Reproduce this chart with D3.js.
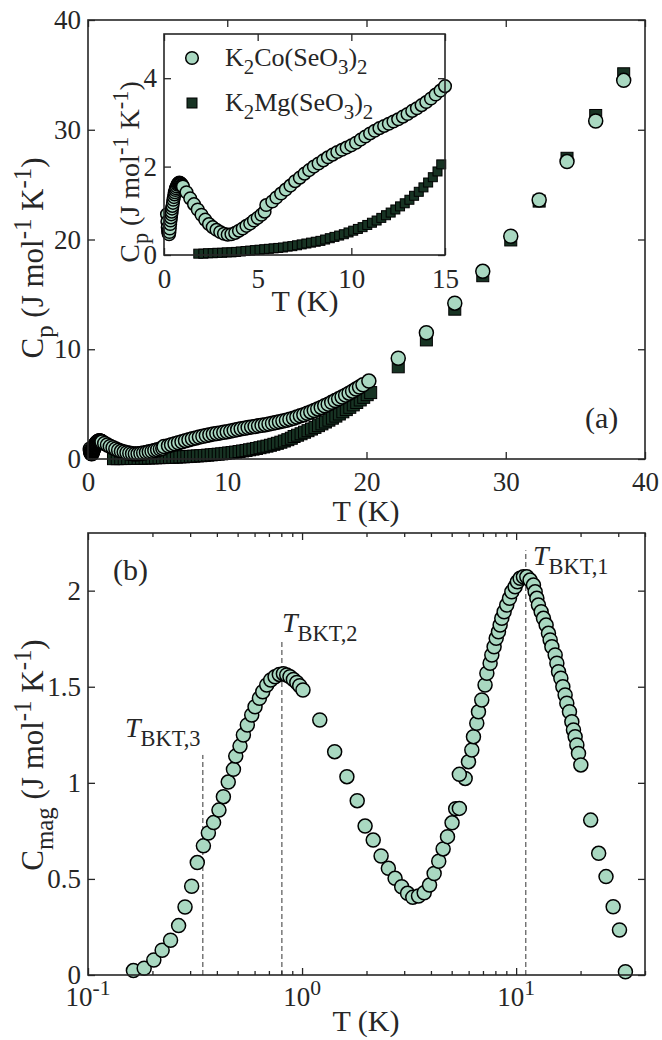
<!DOCTYPE html>
<html lang="en">
<head>
<meta charset="utf-8">
<title>Specific heat of K2Co(SeO3)2</title>
<script src="https://d3js.org/d3.v7.min.js"></script>
<style>
  body { margin: 0; background: #fff; }
  svg { display: block; }
  text { font-family: "Liberation Serif", "Times New Roman", serif; }
  .tick text { font-size: 27px; fill: #262626; }
  .tick line { stroke: #262626; stroke-width: 1.3; }
</style>
</head>
<body>
<script>

// ---- data ----
// K2Co(SeO3)2 total specific heat, T (K) and Cp (J/mol/K)
var coT = [0.16,0.18,0.20,0.22,0.24,0.27,0.29,0.31,0.33,0.35,0.37,0.39,0.41,0.43,0.45,0.48,0.50,0.53,0.56,0.58,
  0.61,0.64,0.68,0.72,0.75,0.79,0.82,0.85,0.88,0.91,0.95,0.98,1.01,1.2,1.4,1.6,1.8,2.0,2.2,2.4,
  2.6,2.8,3.0,3.2,3.4,3.6,3.8,4.0,4.2,4.4,4.6,4.8,5.0,5.2,5.37,5.46,5.78,6.0,6.25,6.5,
  6.75,7.0,7.25,7.5,7.75,8.0,8.25,8.5,8.75,9.0,9.25,9.5,9.75,10.0,10.25,10.5,10.75,11.0,11.25,11.5,
  11.75,12.0,12.25,12.5,12.75,13.0,13.25,13.5,13.75,14.0,14.25,14.5,14.76,15.0,15.25,15.5,15.75,16.0,16.25,16.5,
  16.75,17.0,17.25,17.5,17.75,18.0,18.25,18.5,18.75,19.0,19.25,19.5,19.75,20.17,
  22.28,24.3,26.34,28.35,30.36,32.4,34.4,36.46,38.47];
var coCp = [0.92,0.75,0.62,0.54,0.49,0.47,0.52,0.60,0.70,0.78,0.85,0.92,0.98,1.05,1.11,1.18,1.25,1.31,1.37,1.42,
  1.47,1.51,1.55,1.59,1.61,1.63,1.64,1.63,1.62,1.61,1.59,1.57,1.55,1.42,1.28,1.15,1.03,0.91,0.80,0.70,
  0.63,0.57,0.52,0.48,0.46,0.47,0.50,0.55,0.60,0.66,0.71,0.78,0.84,0.91,0.98,1.13,1.21,1.30,1.39,1.48,
  1.57,1.67,1.75,1.84,1.92,2.00,2.07,2.14,2.21,2.27,2.33,2.38,2.43,2.48,2.54,2.61,2.68,2.75,2.81,2.87,
  2.92,2.97,3.02,3.07,3.13,3.19,3.26,3.32,3.39,3.46,3.54,3.63,3.72,3.82,3.93,4.04,4.16,4.29,4.42,4.56,
  4.70,4.85,5.00,5.16,5.32,5.48,5.65,5.82,6.00,6.18,6.37,6.56,6.76,7.10,
  9.18,11.5,14.2,17.1,20.3,23.6,27.1,30.8,34.5];

// K2Mg(SeO3)2 (non-magnetic reference)
var mgT = [1.83,2.1,2.35,2.6,2.85,3.1,3.35,3.6,3.85,4.1,4.35,4.6,4.85,5.1,5.35,5.6,5.85,6.1,6.35,6.6,
  6.85,7.1,7.35,7.6,7.85,8.1,8.35,8.6,8.85,9.1,9.35,9.6,9.85,10.1,10.35,10.6,10.85,11.1,11.35,11.6,
  11.85,12.1,12.35,12.6,12.85,13.1,13.35,13.6,13.85,14.1,14.35,14.6,14.8,15.05,15.3,15.55,15.8,16.05,16.3,16.55,
  16.8,17.05,17.3,17.55,17.8,18.05,18.3,18.55,18.8,19.05,19.3,19.55,19.8,20.05,20.3,
  22.28,24.3,26.34,28.35,30.36,32.4,34.4,36.46,38.47];
var mgCp = [0.03,0.03,0.04,0.04,0.05,0.05,0.06,0.06,0.07,0.08,0.09,0.10,0.11,0.12,0.13,0.14,0.15,0.16,0.17,0.19,
  0.20,0.22,0.24,0.26,0.28,0.30,0.32,0.35,0.38,0.41,0.44,0.47,0.51,0.55,0.59,0.63,0.68,0.73,0.78,0.84,
  0.90,0.96,1.03,1.10,1.17,1.25,1.34,1.43,1.53,1.64,1.76,1.89,2.05,2.17,2.30,2.44,2.58,2.73,2.88,3.04,
  3.20,3.37,3.54,3.72,3.91,4.10,4.30,4.50,4.71,4.93,5.15,5.38,5.62,5.86,6.05,
  8.4,10.85,13.65,16.7,19.96,23.5,27.4,31.3,35.1];

// magnetic specific heat, panel (b)
var magT = [0.163,0.183,0.203,0.222,0.243,0.265,0.284,0.305,0.324,0.346,0.365,0.386,0.409,0.429,0.452,0.478,0.490,0.513,0.532,0.555,
  0.582,0.603,0.632,0.655,0.684,0.714,0.748,0.783,0.818,0.848,0.878,0.911,0.945,0.975,1.01,1.21,1.42,1.62,1.81,1.97,
  2.15,2.34,2.53,2.72,2.92,3.11,3.29,3.50,3.72,3.94,4.14,4.35,4.56,4.78,5.02,5.22,5.43,5.78,5.99,6.21,
  6.32,6.55,6.67,6.91,7.16,7.30,7.56,7.70,7.89,8.07,8.27,8.42,8.57,8.79,9.04,9.31,9.55,9.89,10.14,10.44,
  10.82,11.22,11.62,12.05,12.27,12.50,12.71,13.09,13.42,13.81,14.16,14.42,14.69,15.22,15.50,15.78,16.18,16.53,16.94,17.25,
  17.75,18.21,18.53,18.87,19.22,19.56,20.06,22.3,24.3,26.3,28.4,30.4,32.4];
var magC = [0.023,0.035,0.078,0.129,0.181,0.257,0.354,0.462,0.585,0.672,0.739,0.793,0.858,0.928,1.004,1.070,1.139,1.191,1.249,1.301,
  1.353,1.396,1.440,1.474,1.509,1.535,1.552,1.564,1.568,1.561,1.552,1.538,1.522,1.505,1.483,1.327,1.162,1.032,0.907,0.775,
  0.702,0.619,0.555,0.503,0.459,0.425,0.404,0.411,0.428,0.468,0.528,0.592,0.656,0.720,0.792,0.865,0.867,1.023,1.110,1.171,
  1.240,1.310,1.370,1.431,1.509,1.570,1.622,1.665,1.708,1.752,1.786,1.821,1.856,1.890,1.925,1.960,1.994,2.020,2.046,2.064,
  2.072,2.072,2.055,2.029,1.994,1.960,1.925,1.890,1.856,1.821,1.778,1.743,1.708,1.665,1.622,1.578,1.544,1.500,1.457,1.414,
  1.370,1.318,1.275,1.240,1.197,1.153,1.093,0.806,0.633,0.512,0.355,0.234,0.017];
// extra point of the second data set near 5.4 K
var magT2 = [5.43];
var magC2 = [1.044];

// BKT temperatures and how high their dashed markers go
var bktT = [0.344, 0.805, 11.1];
var bktTop = [1.145, 1.745, 2.21];
var bktSub = ["BKT,3", "BKT,2", "BKT,1"];

var fillCo = "#a9d8c1", fillMg = "#173323", ink = "#262626";
var FS = 27, FT = 30, FY = 31;

var svg = d3.select("body").append("svg").attr("width", 662).attr("height", 1040);

// text with sub / superscripts, parts = [[string, kind]]
function rich(t, parts, size) {
  var shift = 0;
  parts.forEach(function(p) {
    var k = p[1];
    var target = k === "sub" ? size * 0.32 : (k === "sup" ? -size * 0.4 : 0);
    var ts = t.append("tspan").attr("dy", target - shift)
      .attr("font-size", (k === "sub" || k === "sup") ? size * 0.8 : size)
      .text(p[0]);
    if (k === "it") ts.attr("font-style", "italic");
    shift = target;
  });
  return t;
}

var cpLabel = [["C","n"],["p","sub"],[" (J mol","n"],["-1","sup"],[" K","n"],["-1","sup"],[")","n"]];

// white plot area + ticks on 4 sides; returns group for the data
function frame(x, y, xt, yt, xpad, ypad, log) {
  var xr = x.range(), yr = y.range();
  var g = svg.append("g");
  g.append("rect").attr("x", xr[0]).attr("y", yr[1])
    .attr("width", xr[1] - xr[0]).attr("height", yr[0] - yr[1]).attr("fill", "#fff");
  var fy = d3.format("~g");
  var fx = log ? function() { return ""; } : d3.format("~g");
  var axes = [
    d3.axisBottom(x).tickValues(xt).tickSize(-7).tickPadding(xpad).tickFormat(fx),
    d3.axisTop(x).tickValues(xt).tickSize(-7).tickFormat(""),
    d3.axisLeft(y).tickValues(yt).tickSize(-7).tickPadding(ypad).tickFormat(fy),
    d3.axisRight(y).tickValues(yt).tickSize(-7).tickFormat("")
  ];
  var tr = ["translate(0," + yr[0] + ")", "translate(0," + yr[1] + ")",
            "translate(" + xr[0] + ",0)", "translate(" + xr[1] + ",0)"];
  axes.forEach(function(a, i) {
    g.append("g").attr("transform", tr[i]).call(a).call(function(s) { s.select(".domain").remove(); });
  });
  return g;
}

function box(x, y) {
  var xr = x.range(), yr = y.range();
  svg.append("rect").attr("x", xr[0]).attr("y", yr[1])
    .attr("width", xr[1] - xr[0]).attr("height", yr[0] - yr[1])
    .attr("fill", "none").attr("stroke", ink).attr("stroke-width", 1.6);
}

function circles(g, x, y, T, C, r) {
  g.selectAll(null).data(T).enter().append("circle")
    .attr("cx", function(d) { return x(d); })
    .attr("cy", function(d, i) { return y(C[i]); })
    .attr("r", r).attr("fill", fillCo).attr("stroke", "#000").attr("stroke-width", 1.5);
}

function squares(g, x, y, T, C, s) {
  g.selectAll(null).data(T).enter().append("rect")
    .attr("x", function(d) { return x(d) - s / 2; })
    .attr("y", function(d, i) { return y(C[i]) - s / 2; })
    .attr("width", s).attr("height", s)
    .attr("fill", fillMg).attr("stroke", "#000").attr("stroke-width", 1);
}

// ---------------- panel (a) ----------------
var xa = d3.scaleLinear().domain([0, 40]).range([88, 645]);
var ya = d3.scaleLinear().domain([0, 40]).range([459, 20]);
var ga = frame(xa, ya, [0, 10, 20, 30, 40], [0, 10, 20, 30, 40], 13, 7, false);
squares(ga, xa, ya, mgT, mgCp, 12);
circles(ga, xa, ya, coT, coCp, 7);
box(xa, ya);

svg.append("text").attr("x", 366).attr("y", 521).attr("text-anchor", "middle")
  .attr("font-size", FT).attr("fill", ink).text("T (K)");
rich(svg.append("text").attr("transform", "translate(43,258) rotate(-90)")
  .attr("text-anchor", "middle").attr("fill", ink), cpLabel, FY);
svg.append("text").attr("x", 585).attr("y", 428).attr("font-size", FT).attr("fill", ink).text("(a)");

// inset
var xi = d3.scaleLinear().domain([0, 15]).range([164, 445]);
var yi = d3.scaleLinear().domain([0, 5]).range([255, 34]);
var gi = frame(xi, yi, [0, 5, 10, 15], [0, 2, 4], 14, 7, false);
var inMg = mgT.map(function(d, i) { return i; }).filter(function(i) { return mgT[i] <= 15; });
var inCo = coT.map(function(d, i) { return i; }).filter(function(i) { return coT[i] <= 15; });
squares(gi, xi, yi, inMg.map(function(i) { return mgT[i]; }), inMg.map(function(i) { return mgCp[i]; }), 9);
circles(gi, xi, yi, inCo.map(function(i) { return coT[i]; }), inCo.map(function(i) { return coCp[i]; }), 6.3);
box(xi, yi);

svg.append("text").attr("x", 305).attr("y", 311).attr("text-anchor", "middle")
  .attr("font-size", FT).attr("fill", ink).text("T (K)");
rich(svg.append("text").attr("transform", "translate(139,172) rotate(-90)")
  .attr("text-anchor", "middle").attr("fill", ink), cpLabel, 28);

// legend
svg.append("circle").attr("cx", 192).attr("cy", 58).attr("r", 6.3)
  .attr("fill", fillCo).attr("stroke", "#000").attr("stroke-width", 1.5);
svg.append("rect").attr("x", 187).attr("y", 98).attr("width", 10).attr("height", 10)
  .attr("fill", fillMg).attr("stroke", "#000");
rich(svg.append("text").attr("x", 225).attr("y", 66).attr("fill", ink),
  [["K","n"],["2","sub"],["Co(SeO","n"],["3","sub"],[")","n"],["2","sub"]], 26);
rich(svg.append("text").attr("x", 225).attr("y", 111).attr("fill", ink),
  [["K","n"],["2","sub"],["Mg(SeO","n"],["3","sub"],[")","n"],["2","sub"]], 26);

// ---------------- panel (b) ----------------
var xb = d3.scaleLog().domain([0.1, 40]).range([88, 645]);
var yb = d3.scaleLinear().domain([0, 2.3]).range([975, 533]);
var minor = xb.ticks().filter(function(d) { return Math.abs(Math.log10(d) % 1) > 1e-6; });
var gb = frame(xb, yb, [0.1, 1, 10], [0, 0.5, 1, 1.5, 2], 12, 7, true);
[[d3.axisBottom(xb), 975], [d3.axisTop(xb), 533]].forEach(function(p) {
  gb.append("g").attr("transform", "translate(0," + p[1] + ")")
    .call(p[0].tickValues(minor).tickSize(-4).tickFormat(""))
    .call(function(s) { s.select(".domain").remove(); });
});

// log tick labels 10^n
[0.1, 1, 10].forEach(function(v) {
  rich(svg.append("text").attr("x", xb(v)).attr("y", 1006).attr("text-anchor", "middle").attr("fill", ink),
    [["10","n"],[String(Math.round(Math.log10(v))),"sup"]], FS);
});

// BKT dashed markers
gb.selectAll(null).data(bktT).enter().append("line")
  .attr("x1", function(d) { return xb(d); }).attr("x2", function(d) { return xb(d); })
  .attr("y1", yb(0)).attr("y2", function(d, i) { return yb(bktTop[i]); })
  .attr("stroke", "#333").attr("stroke-width", 1).attr("stroke-dasharray", "5,3");

circles(gb, xb, yb, magT, magC, 7);
circles(gb, xb, yb, magT2, magC2, 7);
box(xb, yb);

var bktPos = [[125, 737], [282, 632], [533, 565]];
bktPos.forEach(function(p, i) {
  rich(svg.append("text").attr("x", p[0]).attr("y", p[1]).attr("fill", ink),
    [["T","it"],[bktSub[i],"sub"]], 28);
});

svg.append("text").attr("x", 366).attr("y", 1031).attr("text-anchor", "middle")
  .attr("font-size", FT).attr("fill", ink).text("T (K)");
rich(svg.append("text").attr("transform", "translate(43,755) rotate(-90)")
  .attr("text-anchor", "middle").attr("fill", ink),
  [["C","n"],["mag","sub"],[" (J mol","n"],["-1","sup"],[" K","n"],["-1","sup"],[")","n"]], FY);
svg.append("text").attr("x", 113).attr("y", 580).attr("font-size", FT).attr("fill", ink).text("(b)");

</script>
</body>
</html>
